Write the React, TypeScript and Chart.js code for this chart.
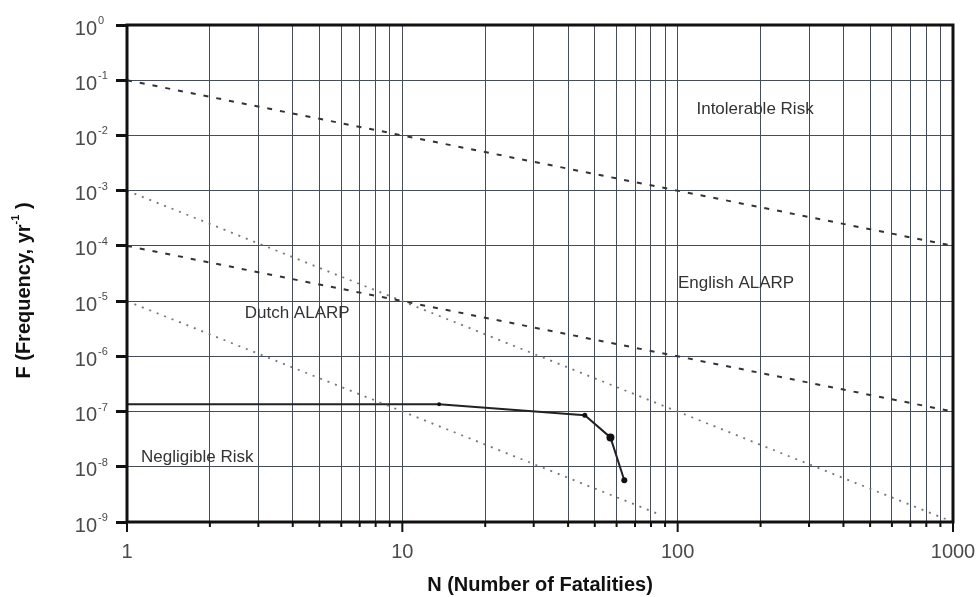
import React, { useEffect, useRef } from 'react';
import { Chart, registerables } from 'chart.js';

Chart.register(...registerables);

// ---- data ----
const X_DECADES = [1, 10, 100, 1000];
const X_TICK_LABELS = ['1', '10', '100', '1000'];
const Y_DECADES = [1, 1e-1, 1e-2, 1e-3, 1e-4, 1e-5, 1e-6, 1e-7, 1e-8, 1e-9];
const Y_EXPONENTS = ['0', '-1', '-2', '-3', '-4', '-5', '-6', '-7', '-8', '-9'];

const ENG_N = [1, 1000];
const ENG_UPPER_F = [1e-1, 1e-4];
const ENG_LOWER_F = [1e-4, 1e-7];
const DUTCH_UPPER_N = [1, 1000];
const DUTCH_UPPER_F = [1e-3, 1e-9];
const DUTCH_LOWER_N = [1, 85];
const DUTCH_LOWER_F = [1e-5, 1.4e-9];
const FN_N = [1, 13.6, 46, 57, 64];
const FN_F = [1.36e-7, 1.36e-7, 8.6e-8, 3.4e-8, 5.7e-9];
const FN_MARKER = [0, 2, 2.5, 4, 3];

const REGION_TEXT = ['Intolerable Risk', 'English ALARP', 'Dutch ALARP', 'Negligible Risk'];
const REGION_N = [191, 163, 4.15, 1.8];
const REGION_F = [3.0e-2, 2.1e-5, 6.1e-6, 1.5e-8];

const FONT = '"Liberation Sans", Arial, Helvetica, sans-serif';

const pts = (xs: number[], ys: number[]) => xs.map((x, i) => ({ x, y: ys[i] }));

const decor = {
  id: 'decor',
  afterDraw(chart: any) {
    const { ctx, chartArea: a, scales } = chart;
    const xs = scales.x;
    const ys = scales.y;
    ctx.save();
    // x tick marks
    ctx.strokeStyle = '#111';
    ctx.lineWidth = 2;
    xs.ticks.forEach((t: any) => {
      const px = xs.getPixelForValue(t.value);
      const len = X_DECADES.includes(t.value) ? 10 : 5;
      ctx.beginPath();
      ctx.moveTo(px, a.bottom);
      ctx.lineTo(px, a.bottom + len);
      ctx.stroke();
    });
    // frame
    ctx.lineWidth = 3;
    ctx.strokeStyle = '#111';
    ctx.strokeRect(a.left, a.top, a.right - a.left, a.bottom - a.top);

    // y tick labels 10^n
    Y_DECADES.forEach((v, i) => {
      const py = ys.getPixelForValue(v);
      ctx.fillStyle = '#4a4a4a';
      ctx.textAlign = 'right';
      ctx.textBaseline = 'middle';
      ctx.font = `20px ${FONT}`;
      ctx.fillText('10', a.left - 30, py + 4);
      ctx.textAlign = 'left';
      ctx.font = `11px ${FONT}`;
      ctx.fillText(Y_EXPONENTS[i], a.left - 29, py - 4);
    });

    // y title
    ctx.save();
    ctx.translate(24, (a.top + a.bottom) / 2 + 17);
    ctx.rotate(-Math.PI / 2);
    ctx.fillStyle = '#111';
    ctx.textBaseline = 'middle';
    ctx.textAlign = 'left';
    const main = 'F (Frequency, yr';
    const sup = '-1';
    const end = ' )';
    ctx.font = `bold 20px ${FONT}`;
    const w1 = ctx.measureText(main).width;
    const w3 = ctx.measureText(end).width;
    ctx.font = `bold 11px ${FONT}`;
    const w2 = ctx.measureText(sup).width;
    const x0 = -(w1 + w2 + w3) / 2;
    ctx.font = `bold 20px ${FONT}`;
    ctx.fillText(main, x0, 0);
    ctx.font = `bold 11px ${FONT}`;
    ctx.fillText(sup, x0 + w1, -8);
    ctx.font = `bold 20px ${FONT}`;
    ctx.fillText(end, x0 + w1 + w2, 0);
    ctx.restore();

    // region labels
    ctx.fillStyle = '#333';
    ctx.font = `17px ${FONT}`;
    ctx.textAlign = 'center';
    ctx.textBaseline = 'middle';
    REGION_TEXT.forEach((t, i) => {
      ctx.fillText(t, xs.getPixelForValue(REGION_N[i]), ys.getPixelForValue(REGION_F[i]));
    });
    ctx.restore();
  },
};

export default function App() {
  const ref = useRef<HTMLCanvasElement | null>(null);
  useEffect(() => {
    if (!ref.current) return;
    const gridColor = '#454c5c';
    const chart = new Chart(ref.current, {
      type: 'line',
      data: {
        datasets: [
          {
            label: 'English upper',
            data: pts(ENG_N, ENG_UPPER_F),
            borderColor: '#333',
            borderWidth: 2,
            borderDash: [5, 8],
            pointRadius: 0,
          },
          {
            label: 'English lower',
            data: pts(ENG_N, ENG_LOWER_F),
            borderColor: '#333',
            borderWidth: 2,
            borderDash: [5, 8],
            pointRadius: 0,
          },
          {
            label: 'Dutch upper',
            data: pts(DUTCH_UPPER_N, DUTCH_UPPER_F),
            borderColor: '#777',
            borderWidth: 1.8,
            borderDash: [2, 6],
            pointRadius: 0,
          },
          {
            label: 'Dutch lower',
            data: pts(DUTCH_LOWER_N, DUTCH_LOWER_F),
            borderColor: '#777',
            borderWidth: 1.8,
            borderDash: [2, 6],
            pointRadius: 0,
          },
          {
            label: 'FN curve',
            data: pts(FN_N, FN_F),
            borderColor: '#222',
            backgroundColor: '#111',
            borderWidth: 2,
            pointRadius: FN_MARKER,
            pointBorderWidth: 0,
          },
        ],
      },
      options: {
        animation: false,
        responsive: true,
        maintainAspectRatio: false,
        layout: { padding: { left: 0, top: 25, right: 27, bottom: 0 } },
        plugins: { legend: { display: false }, tooltip: { enabled: false } },
        scales: {
          x: {
            type: 'logarithmic',
            min: 1,
            max: 1000,
            afterBuildTicks: (scale: any) => {
              const t: any[] = [];
              [1, 10, 100].forEach((d) => {
                for (let m = 1; m <= 9; m++) t.push({ value: d * m });
              });
              t.push({ value: 1000 });
              scale.ticks = t;
            },
            afterFit: (scale: any) => {
              scale.height = 75;
              scale.paddingLeft = 0;
              scale.paddingRight = 0;
            },
            border: { display: false },
            grid: { color: gridColor, lineWidth: 1, drawTicks: false },
            ticks: {
              autoSkip: false,
              maxRotation: 0,
              padding: 18,
              color: '#4a4a4a',
              font: { family: FONT, size: 20 },
              callback: (v: any) => {
                const i = X_DECADES.indexOf(Number(v));
                return i >= 0 ? X_TICK_LABELS[i] : '';
              },
            },
            title: {
              display: true,
              text: 'N (Number of Fatalities)',
              color: '#111',
              font: { family: FONT, size: 20, weight: 'bold' },
              padding: { top: 0, bottom: 0 },
            },
          },
          y: {
            type: 'logarithmic',
            min: 1e-9,
            max: 1,
            afterBuildTicks: (scale: any) => {
              scale.ticks = Y_DECADES.map((v) => ({ value: v }));
            },
            afterFit: (scale: any) => {
              scale.width = 127;
              scale.paddingTop = 0;
              scale.paddingBottom = 0;
            },
            border: { display: false },
            grid: {
              color: gridColor,
              lineWidth: 1,
              drawTicks: true,
              tickLength: 11,
              tickColor: '#111',
              tickWidth: 3,
            },
            ticks: { display: false, autoSkip: false },
          },
        },
      },
      plugins: [decor],
    } as any);
    return () => chart.destroy();
  }, []);
  return (
    <div style={{ position: 'fixed', left: 0, top: 0, width: 980, height: 597, background: '#fff' }}>
      <canvas ref={ref} />
    </div>
  );
}
